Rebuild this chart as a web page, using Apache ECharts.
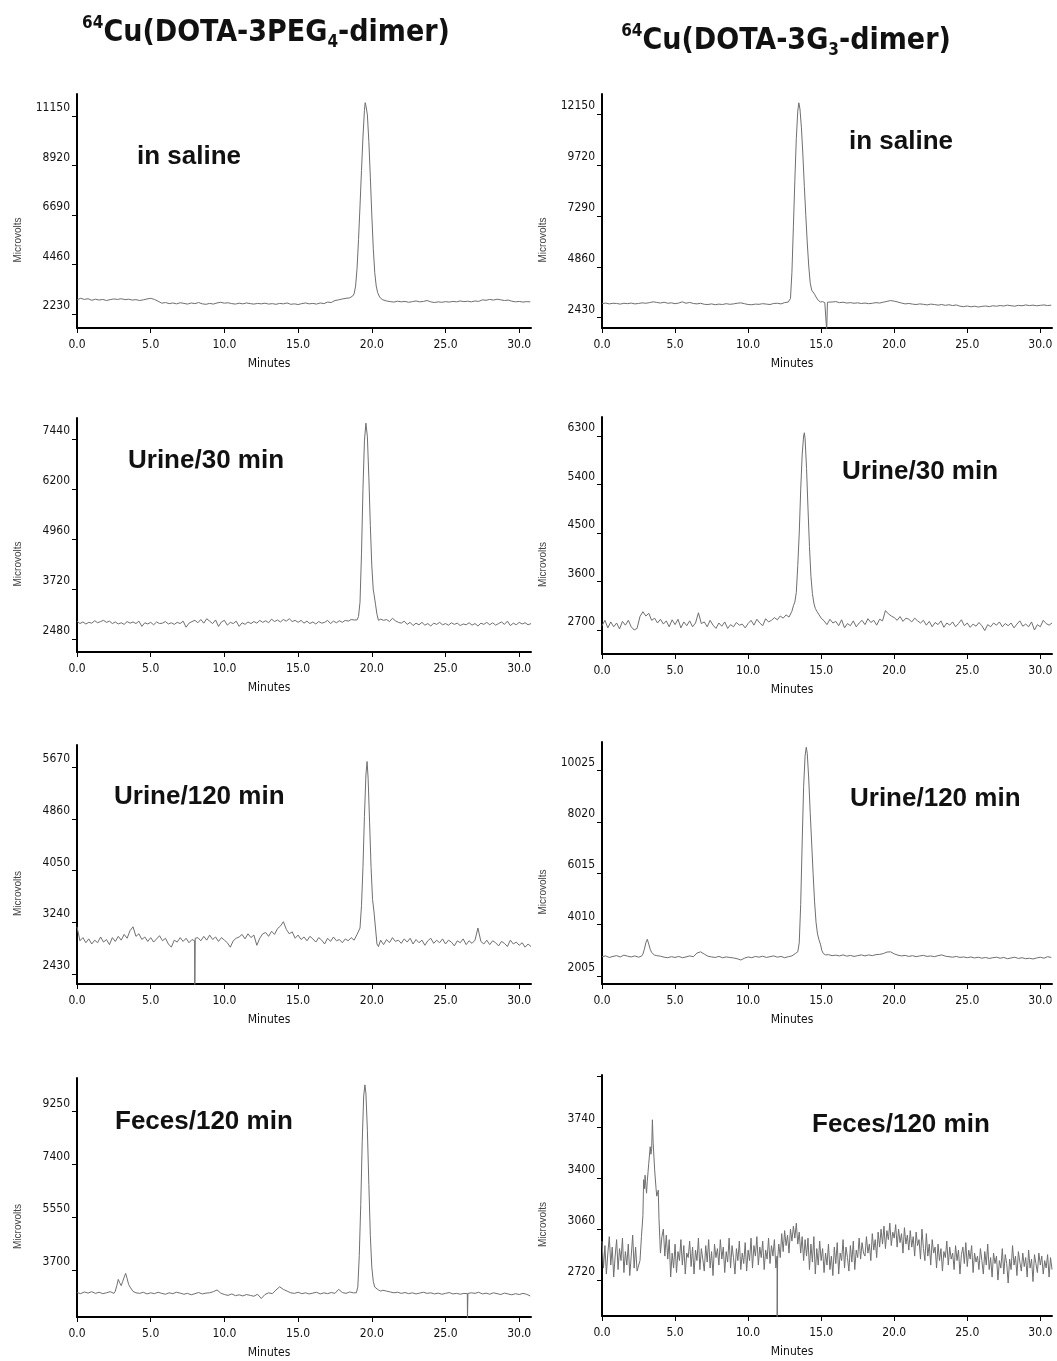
<!DOCTYPE html>
<html>
<head>
<meta charset="utf-8">
<title>HPLC radio-chromatograms</title>
<script src="https://cdn.jsdelivr.net/npm/echarts@6.0.0/dist/echarts.min.js"></script>
<style>
  html, body { margin: 0; padding: 0; background: #fff; }
  #chart { width: 1057px; height: 1361px; }
</style>
</head>
<body>
<div id="chart"></div>
<script>
// ---- data (microvolts), baselines sampled every `step` minutes, peaks as [minutes] / [microvolts]
const xTicks = [0, 5, 10, 15, 20, 25, 30];

// 64Cu(DOTA-3PEG4-dimer), in saline
const ticks1 = [2230, 4460, 6690, 8920, 11150];
const base1 = [
  2880, 2950, 2900, 2930,  2860, 2910, 2870, 2900,  2850, 2890, 2920, 2900,
  2930, 2890, 2910, 2870,  2890, 2850, 2880, 2920,  2950, 2900, 2820, 2730,
  2760, 2710, 2740, 2700,  2750, 2720, 2690, 2740,  2710, 2760, 2700, 2680,
  2720, 2690, 2740, 2770,  2730, 2750, 2710, 2690,  2730, 2700, 2740, 2710,
  2690, 2720, 2700, 2730,  2690, 2710, 2680, 2720,  2700, 2740, 2680, 2700,
  2670, 2710, 2740, 2700,  2720, 2690, 2740, 2710,  2780, 2760, 2850, 2880,
  2920, 2950, 2970, 3000,  2980, 2960, 2940, 2920,  2900, 2880, 2860, 2880,
  2830, 2800, 2780, 2820,  2790, 2810, 2770, 2800,  2830, 2790, 2810, 2850,
  2790, 2760, 2790, 2770,  2800, 2780, 2810, 2790,  2830, 2800, 2820, 2790,
  2830, 2810, 2880, 2860,  2900, 2870, 2910, 2880,  2850, 2870, 2820, 2790,
  2810, 2780, 2800, 2790
];
const peak1T = [18.6, 18.7, 18.8, 18.9, 19.0, 19.1, 19.2, 19.3, 19.4, 19.5, 19.55, 19.6, 19.65, 19.7, 19.8, 19.9, 20.0, 20.1, 20.2, 20.3, 20.4, 20.5, 20.6, 20.7];
const peak1V = [2980, 3050, 3150, 3500, 4300, 5600, 7100, 8700, 10200, 11400, 11750, 11620, 11700, 11200, 10000, 8400, 6700, 5200, 4100, 3500, 3200, 3050, 2950, 2900];

// 64Cu(DOTA-3G3-dimer), in saline
const ticks2 = [2430, 4860, 7290, 9720, 12150];
const base2 = [
  3100, 3130, 3090, 3120,  3110, 3080, 3120, 3100,  3130, 3090, 3110, 3140,
  3120, 3150, 3190, 3160,  3130, 3170, 3120, 3140,  3100, 3130, 3190, 3120,
  3160, 3110, 3090, 3120,  3070, 3060, 3090, 3050,  3080, 3060, 3100, 3070,
  3090, 3120, 3140, 3100,  3060, 3050, 3080, 3070,  3100, 3080, 3060, 3110,
  3120, 3090, 3150, 3180,  3180, 3170, 3160, 3150,  3150, 3140, 3140, 3130,
  3130, 3150, 3170, 3180,  3200, 3150, 3170, 3130,  3150, 3120, 3140, 3110,
  3130, 3100, 3120, 3150,  3130, 3170, 3210, 3250,  3220, 3180, 3130, 3090,
  3110, 3080, 3060, 3090,  3070, 3040, 3080, 3060,  3030, 3060, 3020, 3050,
  3010, 3040, 2980, 2960,  2990, 2950, 2980, 2940,  2970, 2990, 2960, 3000,
  2980, 3010, 2990, 3030,  3000, 2980, 3020, 3000,  3040, 3010, 3030, 3000,
  3020, 3040, 3010, 3030
];
const peak2T = [12.8, 12.9, 13.0, 13.1, 13.2, 13.3, 13.4, 13.47, 13.55, 13.65, 13.75, 13.85, 13.95, 14.05, 14.15, 14.25, 14.35, 14.45, 14.55, 14.65, 14.8, 14.95, 15.1, 15.25];
const peak2V = [3180, 3350, 4600, 6800, 9000, 11000, 12300, 12700, 12400, 11500, 10200, 8700, 7300, 6000, 4900, 4100, 3750, 3680, 3550, 3420, 3260, 3180, 3200, 3150];
const spike2T = [15.37, 15.38, 15.42, 15.43];
const spike2V = [3150, 1800, 1800, 3170];

// 64Cu(DOTA-3PEG4-dimer), urine 30 min
const ticks3 = [2480, 3720, 4960, 6200, 7440];
const base3 = [
  2930, 2870, 2910, 2860, 2900,  2880, 2940, 2890, 2920, 2950,
  2900, 2930, 2870, 2910, 2860,  2890, 2850, 2920, 2880, 2910,
  2870, 2930, 2800, 2890, 2860,  2900, 2840, 2910, 2870, 2880,
  2920, 2860, 2890, 2850, 2900,  2870, 2930, 2780, 2880, 2920,
  2950, 2890, 2970, 2880, 2990,  2930, 2870, 2960, 2800, 2910,
  2950, 2830, 2900, 2870, 2930,  2800, 2890, 2850, 2910, 2870,
  2920, 2880, 2950, 2900, 2940,  2890, 2980, 2920, 2960, 2910,
  2970, 2930, 2990, 2920, 2950,  2900, 2950, 2880, 2930, 2870,
  2910, 2860, 2920, 2880, 2900,  2950, 2870, 2930, 2890, 2940,
  2900, 2950, 2930, 2970, 2960,  2990, 3000, 3000, 3000, 3000,
  3000, 3000, 2960, 2980, 2950,  2970, 2920, 3000, 2940, 2900,
  2880, 2930, 2850, 2900, 2820,  2880, 2840, 2900, 2830, 2870,
  2810, 2880, 2850, 2900, 2840,  2870, 2830, 2890, 2850, 2880,
  2820, 2860, 2840, 2890, 2830,  2870, 2810, 2880, 2850, 2900,
  2840, 2890, 2830, 2870, 2910,  2850, 2930, 2820, 2880, 2840,
  2900, 2860, 2890, 2840, 2870
];
const peak3T = [19.0, 19.1, 19.2, 19.3, 19.4, 19.5, 19.6, 19.65, 19.7, 19.8, 19.9, 20.0, 20.1, 20.15, 20.2, 20.25, 20.35, 20.45];
const peak3V = [2960, 3050, 3400, 4600, 6200, 7400, 7840, 7800, 7500, 6500, 5300, 4300, 3700, 3600, 3580, 3350, 3100, 2950];

// 64Cu(DOTA-3G3-dimer), urine 30 min
const ticks4 = [2700, 3600, 4500, 5400, 6300];
const base4 = [
  2780, 2880, 2740, 2850, 2760,  2830, 2720, 2860, 2790, 2880,
  2760, 2700, 2730, 2950, 3040,  2960, 3010, 2880, 2920, 2830,
  2900, 2810, 2870, 2760, 2890,  2800, 2900, 2740, 2850, 2780,
  2870, 2760, 2830, 3020, 2820,  2850, 2760, 2880, 2790, 2730,
  2830, 2770, 2850, 2730, 2800,  2760, 2840, 2790, 2810, 2740,
  2820, 2880, 2790, 2900, 2830,  2780, 2910, 2850, 2880, 2930,
  2890, 2960, 2920, 2980, 2940,  3050, 3100, 3200, 3200, 3150,
  3100, 3080, 3050, 3050, 3060,  2920, 2870, 2800, 2900, 2830,
  2860, 2780, 2890, 2740, 2820,  2780, 2870, 2760, 2830, 2880,
  2800, 2910, 2840, 2880, 2790,  2900, 2870, 3060, 3000, 2960,
  2930, 2880, 2950, 2860, 2920,  2900, 2850, 2920, 2870, 2830,
  2880, 2790, 2860, 2760, 2840,  2800, 2870, 2750, 2830, 2790,
  2850, 2760, 2820, 2890, 2780,  2830, 2750, 2810, 2770, 2840,
  2780, 2690, 2800, 2760, 2830,  2790, 2850, 2760, 2820, 2780,
  2830, 2740, 2810, 2870, 2770,  2810, 2760, 2850, 2700, 2800,
  2760, 2880, 2820, 2790, 2830
];
const peak4T = [13.1, 13.2, 13.3, 13.4, 13.5, 13.6, 13.7, 13.8, 13.85, 13.9, 14.0, 14.1, 14.2, 14.3, 14.4, 14.5, 14.6, 14.7];
const peak4V = [3150, 3220, 3400, 3900, 4500, 5300, 5950, 6300, 6360, 6250, 5700, 4950, 4250, 3700, 3380, 3200, 3100, 3050];

// 64Cu(DOTA-3PEG4-dimer), urine 120 min
const ticks5 = [2430, 3240, 4050, 4860, 5670];
const base5 = [
  3170, 2950, 3000, 2920, 2980,  2900, 2960, 2920, 3010, 2930,
  2970, 2890, 3000, 2940, 3020,  2960, 3050, 2990, 3110, 3170,
  3020, 3060, 2970, 3010, 2940,  3000, 2930, 2980, 3030, 2950,
  2990, 2900, 2850, 2960, 2930,  3000, 2940, 2990, 2920, 2970,
  2940, 3000, 2950, 3020, 2960,  3040, 2970, 3010, 2940, 3000,
  2960, 2920, 2850, 2950, 2990,  3010, 3050, 2980, 3060, 3000,
  3040, 2880, 2990, 3060, 3080,  3020, 3100, 3050, 3140, 3180,
  3250, 3130, 3060, 3090, 2990,  3040, 2970, 3010, 2950, 3020,
  2980, 2930, 3000, 2960, 2900,  2990, 2940, 3010, 2950, 2970,
  2920, 2980, 2950, 3000, 2960,  3050, 3070, 3000, 3000, 3000,
  3000, 3000, 2900, 2960, 2890,  2970, 2920, 3000, 2940, 2960,
  2910, 2980, 2930, 2990, 2900,  2970, 2920, 2960, 2880, 2950,
  2990, 2910, 2960, 2920, 2980,  2900, 2960, 2930, 2870, 2950,
  2920, 2980, 2890, 2950, 2910,  2960, 3150, 2940, 2900, 2960,
  2890, 2950, 2920, 2870, 2940,  2910, 2860, 2960, 2900, 2930,
  2880, 2920, 2850, 2900, 2860
];
const spike5T = [7.98, 7.99, 8.01, 8.02];
const spike5V = [2950, 2000, 2000, 2990];
const peak5T = [19.1, 19.2, 19.3, 19.4, 19.5, 19.6, 19.68, 19.75, 19.85, 19.95, 20.05, 20.15, 20.25, 20.35, 20.45];
const peak5V = [3060, 3150, 3500, 4100, 4900, 5550, 5760, 5500, 4800, 4100, 3600, 3400, 3150, 2900, 2860];

// 64Cu(DOTA-3G3-dimer), urine 120 min
const ticks6 = [2005, 4010, 6015, 8020, 10025];
const base6 = [
  2760, 2790, 2730, 2770,  2800, 2750, 2820, 2780,  2750, 2790, 2740, 2780,
  3300, 3200, 2860, 2800,  2780, 2740, 2720, 2760,  2730, 2770, 2720, 2750,
  2790, 2760, 2900, 2950,  2860, 2780, 2750, 2730,  2770, 2720, 2750, 2730,
  2710, 2680, 2630, 2700,  2750, 2720, 2770, 2740,  2780, 2730, 2760, 2790,
  2740, 2770, 2720, 2760,  2790, 2890, 2900, 2900,  2900, 2900, 2900, 2900,
  2900, 2850, 2840, 2800,  2820, 2790, 2830, 2780,  2810, 2770, 2800, 2830,
  2790, 2830, 2800, 2840,  2850, 2880, 2940, 2950,  2870, 2820, 2790, 2810,
  2770, 2800, 2760, 2790,  2810, 2770, 2790, 2760,  2800, 2830, 2780, 2760,
  2740, 2770, 2730, 2750,  2720, 2750, 2710, 2740,  2700, 2730, 2690, 2720,
  2740, 2700, 2730, 2680,  2710, 2740, 2690, 2720,  2680, 2700, 2670, 2710,
  2740, 2700, 2760, 2730
];
const peak6aT = [2.7, 2.8, 2.9, 3.0, 3.1, 3.2, 3.3, 3.4, 3.5, 3.6];
const peak6aV = [2780, 2860, 3050, 3300, 3440, 3250, 3050, 2920, 2850, 2820];
const peak6T = [13.3, 13.4, 13.5, 13.6, 13.7, 13.8, 13.9, 13.98, 14.05, 14.15, 14.25, 14.35, 14.45, 14.55, 14.65, 14.75, 14.85, 14.95, 15.05, 15.15, 15.3];
const peak6V = [2900, 2950, 3300, 4800, 7200, 9400, 10600, 10940, 10700, 9700, 8400, 7200, 6000, 4900, 4100, 3650, 3420, 3250, 3000, 2880, 2830];

// 64Cu(DOTA-3PEG4-dimer), feces 120 min
const ticks7 = [3700, 5550, 7400, 9250];
const base7 = [
  2910, 2870, 2930, 2890,  2940, 2880, 2920, 2870,  2900, 2940, 2880, 3000,
  3200, 3400, 3100, 3000,  2950, 2880, 2920, 2860,  2900, 2870, 2920, 2880,
  2850, 2900, 2870, 2920,  2890, 2850, 2880, 2830,  2870, 2910, 2860, 2890,
  2900, 2940, 3000, 2890,  2840, 2810, 2860, 2800,  2830, 2790, 2840, 2810,
  2780, 2850, 2700, 2840,  2900, 2870, 3000, 3110,  3020, 2960, 2900, 2880,
  2920, 2870, 2900, 2860,  2890, 2920, 2860, 2900,  2870, 2910, 2880, 3020,
  2910, 2880, 2930, 2900,  2940, 3000, 3000, 3000,  3000, 3000, 3000, 2990,
  2960, 2930, 2900, 2920,  2880, 2910, 2870, 2900,  2860, 2890, 2920, 2880,
  2900, 2860, 2890, 2850,  2880, 2910, 2860, 2880,  2850, 2880, 2870, 2900,
  2880, 2920, 2860, 2890,  2850, 2900, 2870, 2840,  2890, 2860, 2830, 2870,
  2840, 2880, 2850, 2790
];
const peak7aT = [2.6, 2.7, 2.8, 2.9, 3.0, 3.1, 3.2, 3.3, 3.4, 3.5, 3.6, 3.8, 4.0];
const peak7aV = [2960, 3150, 3370, 3250, 3150, 3300, 3450, 3580, 3400, 3200, 3100, 2950, 2900];
const peak7T = [18.95, 19.05, 19.15, 19.25, 19.35, 19.45, 19.53, 19.6, 19.7, 19.8, 19.9, 20.0, 20.1, 20.2, 20.3, 20.45, 20.6];
const peak7V = [2900, 3100, 4200, 6000, 8200, 9800, 10190, 9900, 8600, 6700, 4900, 3800, 3300, 3100, 3050, 3000, 2960];
const spike7T = [26.48, 26.49, 26.51, 26.52];
const spike7V = [2870, 1900, 1900, 2880];

// 64Cu(DOTA-3G3-dimer), feces 120 min (sampled every 0.1 min)
const ticks8 = [2720, 3060, 3400, 3740];
const tickMarks8 = [2720, 3060, 3400, 3740, 4080];
const base8 = [
  2980, 2800, 2950, 2760, 2900, 3010, 2820, 2940, 2740, 2880,
  2990, 2790, 2930, 2850, 3000, 2770, 2910, 2820, 2960, 2750,
  2880, 3020, 2800, 2940, 2780, 2900, 2830, 2890, 2860, 2900,
  3300, 3350, 3400, 3500, 3600, 3650, 3500, 3400, 3300, 3100,
  3000, 2950, 3060, 2880, 3020, 2860, 2990, 2740, 2900, 2800,
  2960, 2770, 2910, 2850, 2990, 2820, 2950, 2760, 2900, 2870,
  2980, 2810, 2940, 2760, 2920, 2850, 3000, 2790, 2930, 2860,
  2780, 2950, 2840, 2990, 2800, 2910, 2750, 2960, 2870, 2930,
  2820, 2990, 2860, 2940, 2770, 2910, 2840, 3000, 2800, 2950,
  2870, 2760, 2930, 2850, 2980, 2790, 2900, 2830, 2970, 2780,
  2920, 2850, 3000, 2800, 2950, 2880, 3010, 2820, 2940, 2870,
  2980, 2790, 2920, 2860, 3000, 2830, 2950, 2880, 2990, 2800,
  2900, 2960, 2870, 3030, 2910, 3050, 2950, 3020, 2900, 3060,
  2980, 3080, 3000, 3100, 2960, 3040, 2900, 3010, 2850, 2990,
  2880, 3000, 2790, 2960, 2840, 3010, 2760, 2930, 2820, 2980,
  2850, 2930, 2770, 2900, 2820, 2960, 2790, 2880, 2750, 2940,
  2830, 2970, 2760, 2900, 2850, 2990, 2800, 2940, 2870, 2780,
  2950, 2840, 2980, 2790, 2920, 2870, 3000, 2860, 2970, 2900,
  2880, 3010, 2900, 2960, 2850, 3030, 2920, 2990, 2870, 3040,
  2940, 3060, 2960, 3080, 2930, 3050, 2990, 3100, 2950, 3040,
  3000, 3090, 2940, 3060, 2970, 3030, 2900, 3070, 2960, 3020,
  2920, 3050, 2940, 3010, 2880, 3040, 2950, 2990, 2860, 3060,
  2930, 2850, 3030, 2880, 2960, 2820, 2990, 2900, 2940, 2800,
  2960, 2850, 2930, 2780, 2910, 2870, 2980, 2820, 2940, 2860,
  2900, 2790, 2950, 2850, 2920, 2760, 2890, 2940, 2830, 2970,
  2810, 2920, 2860, 2950, 2770, 2900, 2840, 2880, 2790, 2930,
  2850, 2760, 2910, 2820, 2960, 2790, 2870, 2740, 2900, 2830,
  2880, 2720, 2850, 2800, 2930, 2760, 2890, 2830, 2700, 2860,
  2790, 2950, 2820, 2880, 2750, 2910, 2840, 2780, 2900, 2810,
  2870, 2740, 2920, 2800, 2860, 2710, 2890, 2830, 2770, 2900,
  2820, 2880, 2760, 2850, 2800, 2890, 2740, 2870, 2790
];
const peak8T = [2.5, 2.6, 2.7, 2.8, 2.85, 2.9, 2.95, 3.0, 3.05, 3.1, 3.2, 3.3, 3.35, 3.4, 3.45, 3.5, 3.6, 3.7, 3.75, 3.8, 3.85, 3.9, 4.0, 4.1];
const peak8V = [2790, 2850, 3010, 3150, 3390, 3330, 3420, 3350, 3300, 3380, 3500, 3610, 3560, 3600, 3790, 3640, 3460, 3330, 3280, 3290, 3320, 3130, 2900, 3010];
const spike8T = [11.98, 11.99, 12.01, 12.02];
const spike8V = [2880, 2400, 2400, 2860];

// ---- layout
const FONT = '"Liberation Sans Narrow", "Arial Narrow", "DejaVu Sans Condensed", sans-serif';
const BOLD = '"Liberation Sans", Arial, Helvetica, sans-serif';
const LEFT = { left: 77, width: 454 };
const RIGHT = { left: 602, width: 450 };

const panels = [
  { col: LEFT,  top: 94,   height: 234, yMin: 1614, yMax: 12140, ticks: ticks1, base: base1, step: 0.25, segs: [[peak1T, peak1V]], label: 'in saline', lx: 137, ly: 157 },
  { col: RIGHT, top: 94,   height: 234, yMin: 1938, yMax: 13120, ticks: ticks2, base: base2, step: 0.25, segs: [[peak2T, peak2V], [spike2T, spike2V]], label: 'in saline', lx: 849, ly: 142 },
  { col: LEFT,  top: 418,  height: 234, yMin: 2165, yMax: 7968,  ticks: ticks3, base: base3, step: 0.2,  segs: [[peak3T, peak3V]], label: 'Urine/30 min', lx: 128, ly: 461 },
  { col: RIGHT, top: 417,  height: 237, yMin: 2255, yMax: 6653,  ticks: ticks4, base: base4, step: 0.2,  segs: [[peak4T, peak4V]], label: 'Urine/30 min', lx: 842, ly: 472 },
  { col: LEFT,  top: 745,  height: 239, yMin: 2273, yMax: 6019,  ticks: ticks5, base: base5, step: 0.2,  segs: [[spike5T, spike5V], [peak5T, peak5V]], label: 'Urine/120 min', lx: 114, ly: 797 },
  { col: RIGHT, top: 742,  height: 242, yMin: 1693, yMax: 11146, ticks: ticks6, base: base6, step: 0.25, segs: [[peak6aT, peak6aV], [peak6T, peak6V]], label: 'Urine/120 min', lx: 850, ly: 799 },
  { col: LEFT,  top: 1078, height: 239, yMin: 2052, yMax: 10431, ticks: ticks7, base: base7, step: 0.25, segs: [[peak7aT, peak7aV], [peak7T, peak7V], [spike7T, spike7V]], label: 'Feces/120 min', lx: 115, ly: 1122 },
  { col: RIGHT, top: 1075, height: 241, yMin: 2480, yMax: 4089,  ticks: ticks8, tickMarks: tickMarks8, base: base8, step: 0.1, segs: [[peak8T, peak8V], [spike8T, spike8V]], label: 'Feces/120 min', lx: 812, ly: 1125 }
];

// baseline samples outside the peak windows, plus the peak points, in time order
function buildTrace(base, step, segs) {
  const pts = [];
  base.forEach((v, i) => {
    const t = Math.round(i * step * 100) / 100;
    const inPeak = segs.some(([T]) => t >= T[0] && t <= T[T.length - 1]);
    if (!inPeak) pts.push([t, v]);
  });
  segs.forEach(([T, V]) => T.forEach((t, i) => pts.push([t, V[i]])));
  pts.sort((a, b) => a[0] - b[0]);
  return pts;
}

const chart = echarts.init(document.getElementById('chart'), null, { renderer: 'canvas' });

const grid = [], xAxis = [], yAxis = [], series = [], graphic = [];
panels.forEach((p, i) => {
  grid.push({ left: p.col.left, width: p.col.width, top: p.top, height: p.height, containLabel: false });
  xAxis.push({
    gridIndex: i, type: 'value', min: 0, max: 30.8,
    axisLine: { onZero: false, lineStyle: { color: '#000', width: 2 } },
    axisTick: { customValues: xTicks, length: 5, lineStyle: { color: '#000', width: 1 } },
    axisLabel: { customValues: xTicks, formatter: v => v.toFixed(1), color: '#111', fontFamily: FONT, fontSize: 12, margin: 11 },
    splitLine: { show: false },
    name: 'Minutes', nameLocation: 'middle', nameGap: 30,
    nameTextStyle: { color: '#111', fontFamily: FONT, fontSize: 12, padding: [0, 70, 0, 0] }
  });
  yAxis.push({
    gridIndex: i, type: 'value', min: p.yMin, max: p.yMax,
    axisLine: { show: true, onZero: false, lineStyle: { color: '#000', width: 2 } },
    axisTick: { show: true, customValues: p.tickMarks || p.ticks, length: 5, lineStyle: { color: '#000', width: 1 } },
    axisLabel: { customValues: p.ticks, formatter: v => String(v), color: '#111', fontFamily: FONT, fontSize: 12, margin: 7, verticalAlign: 'bottom', padding: [0, 0, 2, 0] },
    splitLine: { show: false },
    name: 'Microvolts', nameLocation: 'middle', nameRotate: 90, nameGap: 54,
    nameTextStyle: { color: '#444', fontFamily: BOLD, fontSize: 10, padding: [0, 58, 0, 0] }
  });
  series.push({
    type: 'line', xAxisIndex: i, yAxisIndex: i,
    data: buildTrace(p.base, p.step, p.segs),
    showSymbol: false, symbol: 'none', silent: true, clip: true,
    lineStyle: { color: '#6f6f6f', width: 1 }
  });
  graphic.push({
    type: 'text', x: p.lx, y: p.ly, silent: true,
    style: { text: p.label, font: 'bold 26px ' + BOLD, fill: '#111', textAlign: 'left', textVerticalAlign: 'middle' }
  });
});

const headRich = {
  main: { fontFamily: FONT, fontWeight: 'bold', fontSize: 30, lineHeight: 36, fill: '#111', color: '#111' },
  sup:  { fontFamily: FONT, fontWeight: 'bold', fontSize: 17, lineHeight: 18, verticalAlign: 'top', fill: '#111', color: '#111' },
  sub:  { fontFamily: FONT, fontWeight: 'bold', fontSize: 17, lineHeight: 18, verticalAlign: 'bottom', fill: '#111', color: '#111' }
};
graphic.push({
  type: 'text', x: 266, y: 33, silent: true,
  style: { text: '{sup|64}{main|Cu(DOTA-3PEG}{sub|4}{main|-dimer)}', rich: headRich, textAlign: 'center', textVerticalAlign: 'middle' }
});
graphic.push({
  type: 'text', x: 786, y: 41, silent: true,
  style: { text: '{sup|64}{main|Cu(DOTA-3G}{sub|3}{main|-dimer)}', rich: headRich, textAlign: 'center', textVerticalAlign: 'middle' }
});

chart.setOption({
  backgroundColor: '#fff',
  animation: false,
  grid, xAxis, yAxis, series, graphic
});
</script>
</body>
</html>
